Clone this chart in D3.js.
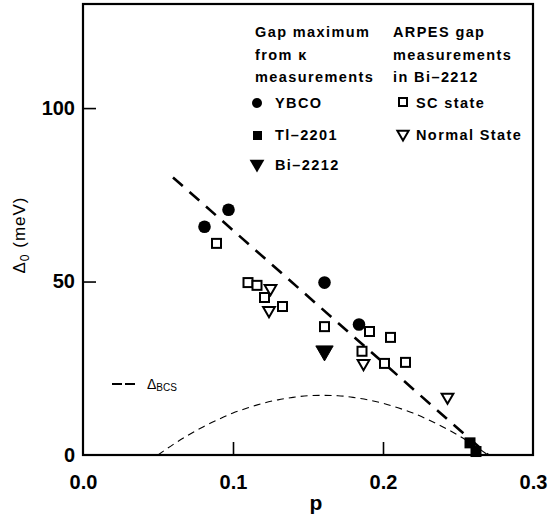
<!DOCTYPE html>
<html>
<head>
<meta charset="utf-8">
<script src="https://cdn.jsdelivr.net/npm/d3@7"></script>
<style>
  body { margin: 0; background: #fff; }
  svg { display: block; font-family: "Liberation Sans", Arial, sans-serif; }
</style>
</head>
<body>
<svg id="chart" width="550" height="521"></svg>
<script>
// Gap maximum vs hole doping p

// thermal conductivity (kappa) gap maxima
const ybcoP = [0.081, 0.097, 0.161, 0.184];
const ybcoD = [65.8, 70.7, 49.7, 37.6];
const tlP = [0.258, 0.262];
const tlD = [3.5, 1.0];
const biP = [0.161];
const biD = [30];

// ARPES gap measurements in Bi-2212
const scP = [0.089, 0.110, 0.116, 0.121, 0.133, 0.161, 0.186, 0.191, 0.201, 0.205, 0.215];
const scD = [61, 49.7, 48.9, 45.4, 42.8, 37.0, 29.9, 35.6, 26.4, 33.9, 26.7];
const nsP = [0.125, 0.124, 0.187, 0.243];
const nsD = [48.0, 41.7, 26.4, 16.7];

// dashed guide line
const guideP = [0.06, 0.27];
const guideD = [80, 0];

// BCS gap dome
const bcsP = [0.05, 0.06, 0.07, 0.08, 0.09, 0.10, 0.11, 0.12, 0.13, 0.14, 0.15, 0.16,
              0.17, 0.18, 0.19, 0.20, 0.21, 0.22, 0.23, 0.24, 0.25, 0.26, 0.27];
const bcsD = [0, 3.0, 5.7, 8.1, 10.2, 12.1, 13.6, 14.9, 15.9, 16.6, 17.1, 17.2,
              17.1, 16.6, 15.9, 14.9, 13.6, 12.1, 10.2, 8.1, 5.7, 3.0, 0];

const xTicks = [0.0, 0.1, 0.2, 0.3];
const yTicks = [0, 50, 100];

const width = 550, height = 521;
const margin = {top: 4, right: 17, bottom: 66, left: 83};

const svg = d3.select("#chart");

const x = d3.scaleLinear().domain([0, 0.3]).range([margin.left, width - margin.right]);
const y = d3.scaleLinear().domain([0, 130]).range([height - margin.bottom, margin.top]);

const zip = (a, b) => a.map((v, i) => [v, b[i]]);
const line = d3.line().x(d => x(d[0])).y(d => y(d[1]));

// dome
svg.append("path")
  .attr("d", line.curve(d3.curveMonotoneX)(zip(bcsP, bcsD)))
  .attr("fill", "none")
  .attr("stroke", "#000")
  .attr("stroke-width", 1.1)
  .attr("stroke-dasharray", "7,5");

// guide line
svg.append("path")
  .attr("d", d3.line().x(d => x(d[0])).y(d => y(d[1]))(zip(guideP, guideD)))
  .attr("fill", "none")
  .attr("stroke", "#000")
  .attr("stroke-width", 2.6)
  .attr("stroke-dasharray", "13,9");

// frame
svg.append("rect")
  .attr("x", x(0)).attr("y", y(130))
  .attr("width", x(0.3) - x(0)).attr("height", y(0) - y(130))
  .attr("fill", "none").attr("stroke", "#000").attr("stroke-width", 2.2);

// axes with inward ticks
const xAxis = svg.append("g")
  .attr("transform", `translate(0,${y(0)})`)
  .call(d3.axisBottom(x).tickValues(xTicks).tickSize(-13).tickPadding(20).tickFormat(d3.format(".1f")));
const yAxis = svg.append("g")
  .attr("transform", `translate(${x(0)},0)`)
  .call(d3.axisLeft(y).tickValues(yTicks).tickSize(-13).tickPadding(8));

[xAxis, yAxis].forEach(g => {
  g.select(".domain").remove();
  g.selectAll(".tick line").attr("stroke-width", 1.6);
  g.selectAll(".tick text")
    .style("font-size", "20px")
    .style("font-weight", "bold")
    .attr("fill", "#000");
});
xAxis.selectAll(".tick line").filter(d => d === 0 || d === 0.3).remove();
yAxis.selectAll(".tick line").filter(d => d === 0).remove();

// axis labels
svg.append("text")
  .attr("x", 316).attr("y", 510)
  .attr("text-anchor", "middle")
  .style("font-size", "21px").style("font-weight", "bold")
  .text("p");

const yl = svg.append("text")
  .attr("transform", "translate(25,235) rotate(-90)")
  .attr("text-anchor", "middle")
  .attr("fill", "#000")
  .style("font-size", "17px")
  .style("letter-spacing", "1px");
yl.append("tspan").text("Δ");
yl.append("tspan").attr("dy", 4).style("font-size", "12px").text("0");
yl.append("tspan").attr("dy", -4).text(" (meV)");

const tri = d3.symbol().type(d3.symbolTriangle);

function drawCircles(P, D, r) {
  svg.append("g").selectAll("circle").data(zip(P, D)).join("circle")
    .attr("cx", d => x(d[0])).attr("cy", d => y(d[1])).attr("r", r).attr("fill", "#000");
}
function drawSquares(P, D, s, filled) {
  svg.append("g").selectAll("rect").data(zip(P, D)).join("rect")
    .attr("x", d => x(d[0]) - s / 2).attr("y", d => y(d[1]) - s / 2)
    .attr("width", s).attr("height", s)
    .attr("fill", filled ? "#000" : "#fff")
    .attr("stroke", "#000").attr("stroke-width", 2);
}
function drawTriangles(P, D, size, filled) {
  svg.append("g").selectAll("path").data(zip(P, D)).join("path")
    .attr("d", tri.size(size)())
    .attr("transform", d => `translate(${x(d[0])},${y(d[1])}) rotate(180)`)
    .attr("fill", filled ? "#000" : "#fff")
    .attr("stroke", "#000").attr("stroke-width", filled ? 1 : 2);
}

drawSquares(scP, scD, 9, false);
drawTriangles(nsP, nsD, 60, false);
drawCircles(ybcoP, ybcoD, 6.3);
drawSquares(tlP, tlD, 9, true);
drawTriangles(biP, biD, 130, true);

// legend
const legendFont = g => g.style("font-size", "14.5px").style("font-weight", "bold").style("letter-spacing", "1.4px");

const titleL = ["Gap maximum", "from κ", "measurements"];
const titleR = ["ARPES gap", "measurements", "in Bi–2212"];
titleL.forEach((t, i) => svg.append("text").attr("x", 255).attr("y", 37 + i * 22.5).call(legendFont).text(t));
titleR.forEach((t, i) => svg.append("text").attr("x", 393).attr("y", 37 + i * 22.5).call(legendFont).text(t));

svg.append("circle").attr("cx", 257).attr("cy", 103).attr("r", 5).attr("fill", "#000");
svg.append("text").attr("x", 275).attr("y", 108).call(legendFont).text("YBCO");
svg.append("rect").attr("x", 253).attr("y", 131).attr("width", 9).attr("height", 9).attr("fill", "#000");
svg.append("text").attr("x", 275).attr("y", 140).call(legendFont).text("Tl–2201");
svg.append("path").attr("d", tri.size(95)()).attr("transform", "translate(257,164) rotate(180)").attr("fill", "#000");
svg.append("text").attr("x", 275).attr("y", 170).call(legendFont).text("Bi–2212");

svg.append("rect").attr("x", 399).attr("y", 98).attr("width", 8).attr("height", 8)
  .attr("fill", "#fff").attr("stroke", "#000").attr("stroke-width", 2);
svg.append("text").attr("x", 416).attr("y", 108).call(legendFont).text("SC state");
svg.append("path").attr("d", tri.size(55)()).attr("transform", "translate(403,134) rotate(180)")
  .attr("fill", "#fff").attr("stroke", "#000").attr("stroke-width", 2);
svg.append("text").attr("x", 416).attr("y", 140).call(legendFont).text("Normal State");

// BCS legend
svg.append("line").attr("x1", 112).attr("x2", 135).attr("y1", 384).attr("y2", 384)
  .attr("stroke", "#000").attr("stroke-width", 2).attr("stroke-dasharray", "10,3");
const bl = svg.append("text").attr("x", 147).attr("y", 389).attr("fill", "#000").style("font-size", "14px");
bl.append("tspan").text("Δ");
bl.append("tspan").attr("dy", 2).style("font-size", "10px").text("BCS");
</script>
</body>
</html>
